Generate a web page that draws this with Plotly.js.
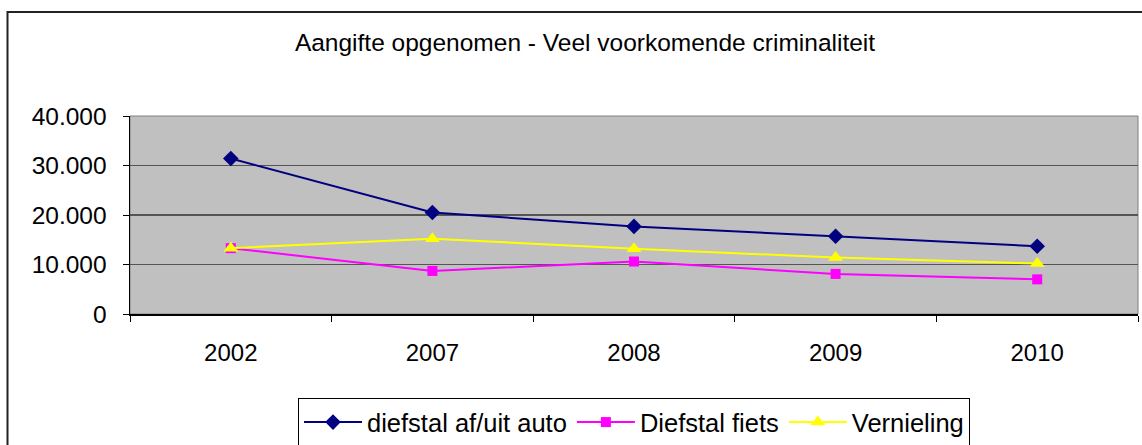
<!DOCTYPE html>
<html>
<head>
<meta charset="utf-8">
<script src="https://cdn.plot.ly/plotly-3.0.1.min.js"></script>
<style>html,body{margin:0;padding:0;background:#fff;}#chart{width:1142px;height:445px;}</style>
</head>
<body>
<div id="chart"></div>
<script>
const years = ['2002', '2007', '2008', '2009', '2010'];
const diefstalAuto = [31400, 20500, 17700, 15700, 13700];
const diefstalFiets = [13300, 8700, 10600, 8100, 7000];
const vernieling = [13300, 15200, 13200, 11400, 10200];
const seriesNames = ['diefstal af/uit auto', 'Diefstal fiets', 'Vernieling'];
const yTicks = [0, 10000, 20000, 30000, 40000];

const font = 'Liberation Sans, Arial, sans-serif';
const traces = [
  {x: years, y: diefstalAuto, name: seriesNames[0], mode: 'lines+markers', type: 'scatter',
   line: {color: '#000080', width: 2}, marker: {symbol: 'diamond', size: 12, color: '#000080'}},
  {x: years, y: diefstalFiets, name: seriesNames[1], mode: 'lines+markers', type: 'scatter',
   line: {color: '#FF00FF', width: 2}, marker: {symbol: 'square', size: 10, color: '#FF00FF'}},
  {x: years, y: vernieling, name: seriesNames[2], mode: 'lines+markers', type: 'scatter',
   line: {color: '#FFFF00', width: 2}, marker: {symbol: 'triangle-up', size: 13, color: '#FFFF00'}}
];

const L = 130, R = 4, T = 116, B = 131;
const pw = 1142 - L - R, ph = 445 - T - B;
const px = v => (v - L) / pw;
const py = v => (445 - B - v) / ph;

const layout = {
  width: 1142, height: 445,
  margin: {l: L, r: R, t: T, b: B, pad: 0, autoexpand: false},
  paper_bgcolor: '#ffffff',
  plot_bgcolor: '#C0C0C0',
  separators: ',.',
  font: {family: font, size: 24, color: '#000'},
  title: {text: 'Aangifte opgenomen - Veel voorkomende criminaliteit',
          font: {family: font, size: 24.5, color: '#000'},
          x: 585 / 1142, xanchor: 'center', y: (445 - 42) / 445, yanchor: 'middle'},
  xaxis: {type: 'category', range: [-0.5, 4.5], tickson: 'boundaries',
          ticks: 'outside', ticklen: 6, tickcolor: '#000', tickwidth: 1,
          showline: true, linecolor: '#000', linewidth: 1.5,
          showgrid: false, zeroline: false, ticklabelstandoff: 17, automargin: false,
          tickfont: {family: font, size: 24, color: '#000'}},
  yaxis: {range: [0, 40000], tickvals: yTicks, tickformat: ',d',
          ticks: 'outside', ticklen: 6, tickcolor: '#000', tickwidth: 1,
          showline: true, linecolor: '#000', linewidth: 1.5,
          showgrid: true, gridcolor: '#555555', gridwidth: 1.2, zeroline: false,
          ticklabelstandoff: 11, automargin: false,
          tickfont: {family: font, size: 24.5, color: '#000'}},
  showlegend: true,
  legend: {orientation: 'h', x: px(634), xanchor: 'center', y: py(398), yanchor: 'top',
           bordercolor: '#000', borderwidth: 1, bgcolor: '#fff', itemwidth: 58,
           font: {family: font, size: 25.5, color: '#000'}, tracegroupgap: 0},
  shapes: [
    {type: 'rect', xref: 'paper', yref: 'paper', x0: 0, x1: 1, y0: 0, y1: 1,
     line: {color: '#808080', width: 1}, layer: 'below'},
    {type: 'rect', xref: 'paper', yref: 'paper', x0: px(7.5), x1: px(1150), y0: py(455), y1: py(12),
     line: {color: '#222', width: 2}}
  ]
};

Plotly.newPlot('chart', traces, layout, {displayModeBar: false, staticPlot: true});
</script>
</body>
</html>
